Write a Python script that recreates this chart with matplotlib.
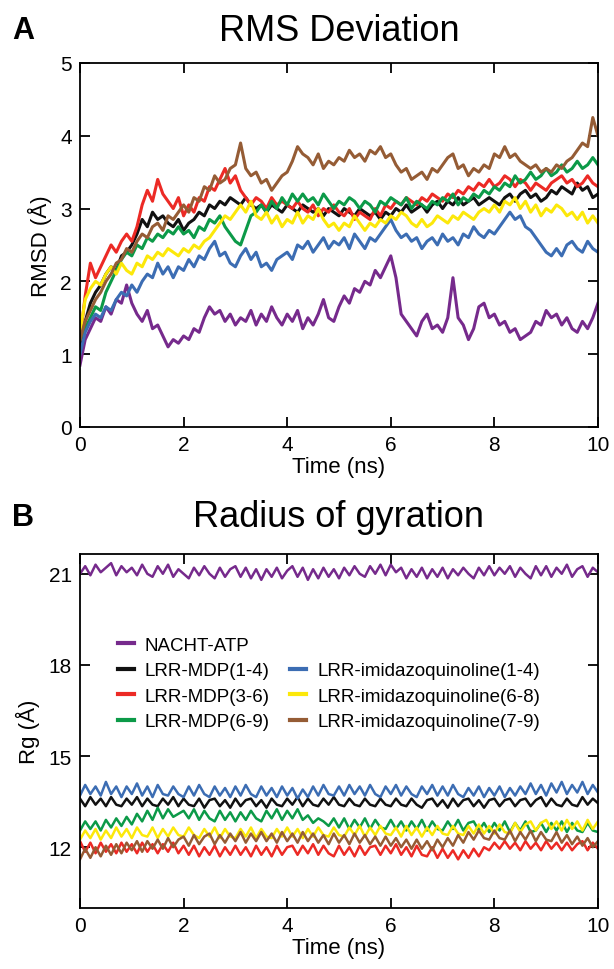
import numpy as np
import matplotlib
matplotlib.use("Agg")
import matplotlib.pyplot as plt
from matplotlib.lines import Line2D

plt.rcParams['font.family'] = ['Liberation Sans', 'DejaVu Sans']

# time axis (ns), 0.1 ns sampling
time_ns = np.round(np.arange(0, 10.01, 0.1), 2)

labels = ["NACHT-ATP", "LRR-MDP(1-4)", "LRR-MDP(3-6)", "LRR-MDP(6-9)",
          "LRR-imidazoquinoline(1-4)", "LRR-imidazoquinoline(6-8)", "LRR-imidazoquinoline(7-9)"]
colors = ["#762a8c", "#111111", "#ec2a25", "#0c9a48", "#3c6db3", "#fce80a", "#955c35"]

# ---- RMSD (A) ----
rmsd_nacht = [0.85, 1.20, 1.35, 1.50, 1.45, 1.65, 1.55, 1.75, 1.70, 1.95,
              1.70, 1.55, 1.45, 1.60, 1.35, 1.40, 1.25, 1.10, 1.20, 1.15,
              1.25, 1.20, 1.35, 1.30, 1.50, 1.65, 1.55, 1.60, 1.45, 1.55,
              1.40, 1.50, 1.45, 1.60, 1.40, 1.55, 1.45, 1.65, 1.50, 1.40,
              1.55, 1.45, 1.60, 1.35, 1.50, 1.40, 1.55, 1.75, 1.50, 1.45,
              1.65, 1.80, 1.70, 1.90, 1.85, 2.00, 1.95, 2.15, 2.05, 2.20,
              2.35, 2.05, 1.55, 1.45, 1.35, 1.25, 1.45, 1.55, 1.35, 1.40,
              1.30, 1.50, 2.05, 1.50, 1.40, 1.20, 1.35, 1.65, 1.70, 1.50,
              1.55, 1.40, 1.45, 1.30, 1.35, 1.20, 1.25, 1.30, 1.45, 1.40,
              1.60, 1.50, 1.55, 1.40, 1.50, 1.35, 1.30, 1.45, 1.35, 1.50,
              1.70]
rmsd_mdp14 = [1.10, 1.45, 1.70, 1.85, 1.95, 2.10, 2.20, 2.15, 2.35, 2.40,
              2.50, 2.65, 2.85, 2.75, 2.95, 2.85, 2.90, 2.80, 2.75, 2.85,
              2.70, 2.80, 2.85, 2.95, 2.90, 3.05, 3.00, 3.10, 3.05, 3.15,
              3.10, 3.05, 3.15, 3.05, 3.00, 3.05, 2.95, 3.05, 3.00, 2.95,
              3.05, 3.00, 2.95, 3.05, 3.00, 2.95, 3.00, 2.90, 3.00, 2.95,
              2.90, 3.00, 2.95, 2.90, 3.00, 2.95, 2.90, 2.95, 2.85, 2.95,
              2.90, 3.00, 2.95, 3.05, 2.95, 3.00, 3.05, 2.95, 3.05, 3.10,
              3.00, 3.10, 3.05, 3.15, 3.05, 3.10, 3.15, 3.05, 3.10, 3.15,
              3.10, 3.05, 3.15, 3.20, 3.10, 3.20, 3.25, 3.15, 3.20, 3.10,
              3.15, 3.25, 3.20, 3.30, 3.25, 3.20, 3.35, 3.25, 3.30, 3.15,
              3.20]
rmsd_mdp36 = [1.20, 1.80, 2.25, 2.05, 2.20, 2.35, 2.50, 2.40, 2.55, 2.65,
              2.55, 2.75, 3.05, 3.25, 3.10, 3.40, 3.20, 3.10, 3.00, 3.15,
              2.90, 3.05, 2.95, 3.15, 3.10, 3.30, 3.25, 3.40, 3.55, 3.35,
              3.45, 3.25, 3.15, 3.05, 3.15, 3.10, 3.00, 3.15, 3.05, 3.10,
              3.05, 3.00, 3.10, 3.00, 2.95, 3.05, 2.90, 3.00, 2.95, 3.05,
              2.95, 2.90, 3.00, 2.85, 2.95, 2.90, 2.85, 3.00, 2.90, 3.05,
              3.00, 3.10, 3.05, 3.15, 3.10, 3.05, 3.15, 3.10, 3.20, 3.15,
              3.10, 3.20, 3.15, 3.25, 3.20, 3.30, 3.25, 3.35, 3.30, 3.40,
              3.30, 3.35, 3.45, 3.40, 3.30, 3.40, 3.35, 3.25, 3.35, 3.30,
              3.25, 3.35, 3.40, 3.45, 3.35, 3.40, 3.30, 3.35, 3.45, 3.35,
              3.30]
rmsd_mdp69 = [1.20, 1.35, 1.50, 1.65, 1.60, 1.85, 2.00, 2.15, 2.30, 2.40,
              2.35, 2.50, 2.45, 2.60, 2.55, 2.65, 2.60, 2.70, 2.65, 2.75,
              2.65, 2.70, 2.60, 2.75, 2.70, 2.85, 2.80, 2.90, 2.75, 2.65,
              2.55, 2.50, 2.70, 2.90, 2.95, 3.05, 2.95, 3.10, 3.00, 3.15,
              3.05, 3.20, 3.10, 3.20, 3.10, 3.15, 3.05, 3.20, 3.10, 3.00,
              3.10, 3.05, 3.15, 3.10, 3.00, 3.10, 3.05, 2.95, 3.10, 3.05,
              3.15, 3.10, 3.05, 3.15, 3.00, 3.10, 3.05, 3.00, 3.10, 3.05,
              3.15, 3.10, 3.20, 3.05, 3.15, 3.10, 3.20, 3.15, 3.25, 3.20,
              3.30, 3.25, 3.35, 3.30, 3.45, 3.35, 3.40, 3.50, 3.40, 3.45,
              3.55, 3.45, 3.50, 3.60, 3.50, 3.55, 3.65, 3.55, 3.60, 3.70,
              3.60]
rmsd_imi14 = [1.00, 1.30, 1.45, 1.55, 1.50, 1.65, 1.60, 1.75, 1.85, 1.80,
              1.95, 1.85, 2.00, 2.10, 2.05, 2.25, 2.10, 2.20, 2.05, 2.20,
              2.15, 2.30, 2.20, 2.35, 2.30, 2.45, 2.55, 2.35, 2.40, 2.25,
              2.20, 2.35, 2.45, 2.30, 2.40, 2.20, 2.25, 2.15, 2.30, 2.35,
              2.40, 2.30, 2.50, 2.45, 2.55, 2.40, 2.50, 2.60, 2.45, 2.55,
              2.50, 2.60, 2.45, 2.65, 2.55, 2.45, 2.60, 2.55, 2.65, 2.75,
              2.85, 2.70, 2.60, 2.65, 2.55, 2.60, 2.45, 2.55, 2.60, 2.50,
              2.65, 2.55, 2.60, 2.50, 2.65, 2.60, 2.75, 2.65, 2.60, 2.70,
              2.65, 2.75, 2.85, 2.95, 2.85, 2.90, 2.75, 2.70, 2.60, 2.50,
              2.40, 2.35, 2.45, 2.35, 2.50, 2.55, 2.45, 2.40, 2.55, 2.45,
              2.40]
rmsd_imi68 = [1.30, 1.75, 1.90, 2.00, 1.95, 2.10, 2.20, 2.10, 2.25, 2.15,
              2.10, 2.25, 2.20, 2.35, 2.30, 2.40, 2.35, 2.45, 2.40, 2.35,
              2.45, 2.40, 2.50, 2.45, 2.55, 2.60, 2.70, 2.80, 2.90, 2.85,
              2.95, 3.05, 2.95, 3.10, 2.90, 2.85, 2.95, 2.80, 2.90, 2.75,
              2.85, 2.80, 2.95, 2.80, 2.90, 2.85, 3.00, 2.85, 2.75, 2.80,
              2.70, 2.80, 2.75, 2.90, 2.80, 2.70, 2.80, 2.75, 2.85, 2.80,
              2.90, 2.85, 2.95, 2.90, 2.80, 2.75, 2.85, 2.75, 2.80, 2.90,
              2.85, 2.80, 2.90, 2.85, 2.95, 2.90, 2.85, 2.95, 3.00, 2.95,
              3.05, 2.95, 3.10, 3.05, 3.15, 3.00, 3.10, 2.95, 3.05, 2.90,
              3.00, 2.95, 3.05, 3.00, 2.90, 2.95, 2.85, 2.95, 2.80, 2.90,
              2.80]
rmsd_imi79 = [1.20, 1.45, 1.60, 1.75, 1.85, 2.00, 2.10, 2.25, 2.30, 2.45,
              2.40, 2.55, 2.65, 2.60, 2.75, 2.80, 2.70, 2.90, 2.85, 2.95,
              3.05, 2.95, 3.15, 3.10, 3.30, 3.25, 3.45, 3.35, 3.40, 3.55,
              3.60, 3.90, 3.55, 3.45, 3.50, 3.35, 3.40, 3.25, 3.35, 3.45,
              3.50, 3.65, 3.85, 3.75, 3.70, 3.60, 3.75, 3.55, 3.65, 3.60,
              3.70, 3.65, 3.80, 3.70, 3.75, 3.65, 3.80, 3.75, 3.85, 3.70,
              3.75, 3.60, 3.50, 3.55, 3.40, 3.45, 3.50, 3.40, 3.55, 3.50,
              3.60, 3.70, 3.75, 3.55, 3.60, 3.45, 3.55, 3.50, 3.60, 3.55,
              3.75, 3.70, 3.85, 3.70, 3.75, 3.65, 3.60, 3.55, 3.60, 3.50,
              3.55, 3.50, 3.60, 3.55, 3.65, 3.70, 3.80, 3.90, 3.85, 4.25,
              4.00]

# ---- Radius of gyration (A) ----
rg_nacht = [21.00, 21.25, 20.95, 21.30, 21.05, 21.20, 21.35, 20.95, 21.25, 21.05,
            21.20, 20.95, 21.30, 21.00, 20.90, 21.25, 21.00, 21.30, 20.90, 21.15,
            21.00, 20.85, 21.20, 20.95, 21.25, 21.00, 20.85, 21.20, 20.90, 21.15,
            21.25, 20.90, 21.20, 20.85, 21.15, 20.80, 21.15, 20.90, 21.20, 20.85,
            21.10, 21.25, 20.90, 21.20, 20.80, 21.15, 20.85, 21.20, 20.90, 21.15,
            20.85, 21.20, 20.95, 21.25, 21.00, 20.90, 21.25, 21.00, 21.30, 20.95,
            21.30, 21.05, 21.20, 20.85, 21.15, 20.90, 21.20, 20.85, 21.15, 20.90,
            21.20, 20.85, 21.15, 20.95, 21.20, 21.00, 20.85, 21.20, 20.95, 21.25,
            20.95, 21.20, 21.00, 21.25, 20.90, 21.20, 21.00, 20.85, 21.25, 20.95,
            21.25, 20.90, 21.20, 21.00, 21.30, 20.90, 21.15, 21.25, 20.90, 21.20,
            21.05]
rg_mdp14 = [13.60, 13.35, 13.65, 13.40, 13.60, 13.35, 13.65, 13.40, 13.35, 13.60,
            13.40, 13.65, 13.35, 13.60, 13.40, 13.35, 13.60, 13.40, 13.65, 13.35,
            13.60, 13.40, 13.35, 13.60, 13.30, 13.55, 13.60, 13.35, 13.55, 13.30,
            13.60, 13.35, 13.55, 13.60, 13.35, 13.55, 13.30, 13.60, 13.40, 13.35,
            13.60, 13.40, 13.65, 13.35, 13.60, 13.40, 13.35, 13.60, 13.40, 13.65,
            13.40, 13.35, 13.60, 13.40, 13.35, 13.60, 13.40, 13.35, 13.60, 13.40,
            13.35, 13.60, 13.40, 13.35, 13.60, 13.40, 13.30, 13.55, 13.60, 13.35,
            13.55, 13.30, 13.60, 13.35, 13.55, 13.60, 13.35, 13.55, 13.30, 13.55,
            13.60, 13.35, 13.55, 13.60, 13.35, 13.55, 13.60, 13.35, 13.55, 13.65,
            13.35, 13.60, 13.40, 13.35, 13.60, 13.40, 13.35, 13.65, 13.40, 13.60,
            13.45]
rg_mdp36 = [12.20, 11.85, 12.15, 11.80, 12.15, 11.85, 12.10, 11.80, 12.15, 11.85,
            12.10, 11.80, 12.15, 11.85, 12.10, 11.80, 12.10, 11.85, 12.15, 11.80,
            12.05, 11.75, 12.05, 11.70, 12.00, 11.75, 12.05, 11.70, 12.00, 11.75,
            12.05, 11.75, 12.00, 11.70, 12.05, 11.75, 12.00, 11.70, 12.05, 11.75,
            12.00, 12.05, 11.75, 12.05, 11.80, 12.10, 11.75, 12.05, 11.80, 11.70,
            12.05, 11.75, 12.00, 11.70, 12.05, 11.75, 12.00, 12.05, 11.75, 12.05,
            11.80, 12.10, 11.75, 12.00, 11.70, 12.05, 11.75, 11.70, 12.00, 11.65,
            11.95, 11.65, 11.90, 11.60, 11.90, 11.65, 11.95, 11.70, 12.00, 11.90,
            12.15, 11.95, 12.20, 11.95, 12.15, 11.90, 12.20, 11.95, 12.15, 11.90,
            12.20, 11.95, 12.15, 11.90, 12.15, 11.90, 12.10, 12.20, 11.90, 12.15,
            11.95]
rg_mdp69 = [12.55, 12.85, 12.60, 12.85, 12.55, 12.90, 12.65, 12.95, 12.70, 13.00,
            12.75, 13.10, 12.85, 13.20, 12.90, 13.30, 12.95, 13.25, 13.00, 13.10,
            13.20, 12.95, 13.25, 12.90, 13.20, 12.95, 12.85, 13.20, 12.90, 13.15,
            12.85, 13.15, 12.90, 13.20, 12.95, 12.85, 13.20, 12.95, 13.25, 12.90,
            13.20, 12.95, 13.25, 12.90, 13.05, 12.80, 12.95, 12.85, 12.70, 12.95,
            12.65, 12.95, 12.60, 12.90, 12.65, 12.95, 12.60, 12.90, 12.65, 12.60,
            12.90, 12.60, 12.85, 12.55, 12.85, 12.60, 12.90, 12.55, 12.85, 12.60,
            12.55, 12.85, 12.60, 12.90, 12.55, 12.80, 12.85, 12.55, 12.80, 12.50,
            12.80, 12.55, 12.85, 12.50, 12.80, 12.55, 12.85, 12.50, 12.55, 12.80,
            12.50, 12.80, 12.55, 12.85, 12.50, 12.80, 12.55, 12.50, 12.80, 12.55,
            12.50]
rg_imi14 = [13.70, 14.05, 13.75, 14.00, 13.70, 14.15, 13.75, 14.00, 13.65, 14.00,
            13.75, 14.10, 13.70, 14.00, 13.65, 14.05, 13.75, 13.70, 14.00, 13.75,
            13.65, 14.00, 13.70, 14.05, 13.75, 13.65, 14.00, 13.70, 13.95, 13.65,
            14.00, 13.70, 14.05, 13.75, 13.65, 14.00, 13.70, 13.95, 13.65, 14.00,
            13.70, 13.95, 13.60, 13.90, 13.65, 14.00, 13.70, 14.05, 13.75, 13.70,
            14.00, 13.70, 14.05, 13.75, 14.00, 13.70, 14.05, 13.75, 13.65, 14.00,
            13.75, 14.05, 13.70, 14.00, 13.75, 13.65, 14.00, 13.75, 14.05, 13.70,
            14.00, 13.70, 14.05, 13.75, 13.65, 13.95, 13.70, 14.00, 13.65, 13.95,
            13.70, 14.00, 13.65, 13.95, 13.70, 14.00, 13.75, 14.10, 13.75, 14.05,
            13.70, 14.10, 13.80, 14.15, 13.75, 14.05, 13.80, 14.15, 13.75, 14.05,
            13.80]
rg_imi68 = [12.25, 12.55, 12.30, 12.60, 12.25, 12.55, 12.30, 12.65, 12.35, 12.60,
            12.30, 12.65, 12.40, 12.35, 12.65, 12.30, 12.60, 12.35, 12.65, 12.40,
            12.35, 12.65, 12.40, 12.30, 12.60, 12.35, 12.65, 12.30, 12.60, 12.35,
            12.30, 12.60, 12.35, 12.65, 12.30, 12.60, 12.35, 12.30, 12.60, 12.35,
            12.65, 12.35, 12.60, 12.30, 12.60, 12.35, 12.65, 12.40, 12.35, 12.65,
            12.40, 12.35, 12.65, 12.40, 12.70, 12.35, 12.65, 12.40, 12.70, 12.45,
            12.40, 12.65, 12.35, 12.70, 12.40, 12.65, 12.35, 12.65, 12.40, 12.70,
            12.45, 12.40, 12.70, 12.45, 12.40, 12.70, 12.45, 12.75, 12.45, 12.70,
            12.45, 12.75, 12.50, 12.45, 12.80, 12.50, 12.75, 12.85, 12.55, 12.80,
            12.90, 12.60, 12.85, 12.55, 12.90, 12.60, 12.85, 12.55, 12.90, 12.60,
            12.85]
rg_imi79 = [11.60, 11.95, 11.65, 12.00, 11.70, 12.05, 11.75, 12.10, 11.80, 12.15,
            11.90, 12.20, 11.85, 12.20, 11.95, 12.25, 11.95, 12.30, 12.00, 12.25,
            12.35, 12.05, 12.40, 12.10, 12.35, 12.45, 12.10, 12.40, 12.15, 12.45,
            12.20, 12.50, 12.15, 12.45, 12.20, 12.50, 12.20, 12.45, 12.15, 12.50,
            12.20, 12.45, 12.15, 12.50, 12.20, 12.45, 12.15, 12.40, 12.10, 12.45,
            12.15, 12.40, 12.10, 12.45, 12.15, 12.40, 12.10, 12.35, 12.05, 12.35,
            12.05, 12.30, 12.00, 12.25, 11.95, 12.25, 11.95, 12.20, 11.90, 12.25,
            12.00, 12.30, 12.05, 12.40, 12.15, 12.50, 12.25, 12.55, 12.30, 12.25,
            12.55, 12.30, 12.25, 12.55, 12.20, 12.50, 12.25, 12.55, 12.20, 12.50,
            12.25, 12.20, 12.50, 12.15, 12.40, 12.10, 12.35, 12.05, 12.30, 12.00,
            12.20]

rmsd = [rmsd_nacht, rmsd_mdp14, rmsd_mdp36, rmsd_mdp69, rmsd_imi14, rmsd_imi68, rmsd_imi79]
rg = [rg_nacht, rg_mdp14, rg_mdp36, rg_mdp69, rg_imi14, rg_imi68, rg_imi79]


def style_axes(ax):
    for sp in ax.spines.values():
        sp.set_linewidth(1.3)
    ax.tick_params(direction='in', length=7, width=1.3, top=True, right=True,
                   labelsize=15, pad=6)
    ax.set_xlim(0, 10)
    ax.set_xticks([0, 2, 4, 6, 8, 10])
    ax.set_xlabel("Time (ns)", fontsize=16, labelpad=1)


fig = plt.figure(figsize=(6.14, 9.70), dpi=100)

ax1 = fig.add_axes([0.1303, 0.5588, 0.8436, 0.3753])
for y, c in zip(rmsd, colors):
    ax1.plot(time_ns, y, color=c, lw=2.2)
ax1.set_ylim(0, 5)
ax1.set_yticks([0, 1, 2, 3, 4, 5])
ax1.set_ylabel("RMSD (Å)", fontsize=16, labelpad=6)
style_axes(ax1)

ax2 = fig.add_axes([0.1303, 0.0629, 0.8436, 0.3649])
handles = []
for y, c, lab in zip(rg, colors, labels):
    ln, = ax2.plot(time_ns, y, color=c, lw=1.8, label=lab)
    handles.append(ln)
ax2.set_ylim(10, 21.65)
ax2.set_yticks([12, 15, 18, 21])
ax2.set_ylabel("Rg (Å)", fontsize=16, labelpad=6)
style_axes(ax2)

# legend: NACHT alone in the first row, then two columns
blank = Line2D([], [], color='none')
leg_handles = [Line2D([], [], color=h.get_color(), lw=3) for h in handles]
order = [leg_handles[0], leg_handles[1], leg_handles[2], leg_handles[3],
         blank, leg_handles[4], leg_handles[5], leg_handles[6]]
order_labels = [labels[0], labels[1], labels[2], labels[3], "",
                labels[4], labels[5], labels[6]]
ax2.legend(order, order_labels, ncol=2, frameon=False, fontsize=13.5,
           loc='upper left', bbox_to_anchor=(0.04, 0.815), handlelength=0.85,
           handletextpad=0.6, columnspacing=1.1, labelspacing=0.45)

fig.text(0.552, 0.968, "RMS Deviation", fontsize=26, ha='center', va='center')
fig.text(0.552, 0.466, "Radius of gyration", fontsize=26, ha='center', va='center')
fig.text(0.02, 0.968, "A", fontsize=22, fontweight='bold', ha='left', va='center')
fig.text(0.02, 0.466, "B", fontsize=22, fontweight='bold', ha='left', va='center')

fig.savefig("out.png", dpi=100)
